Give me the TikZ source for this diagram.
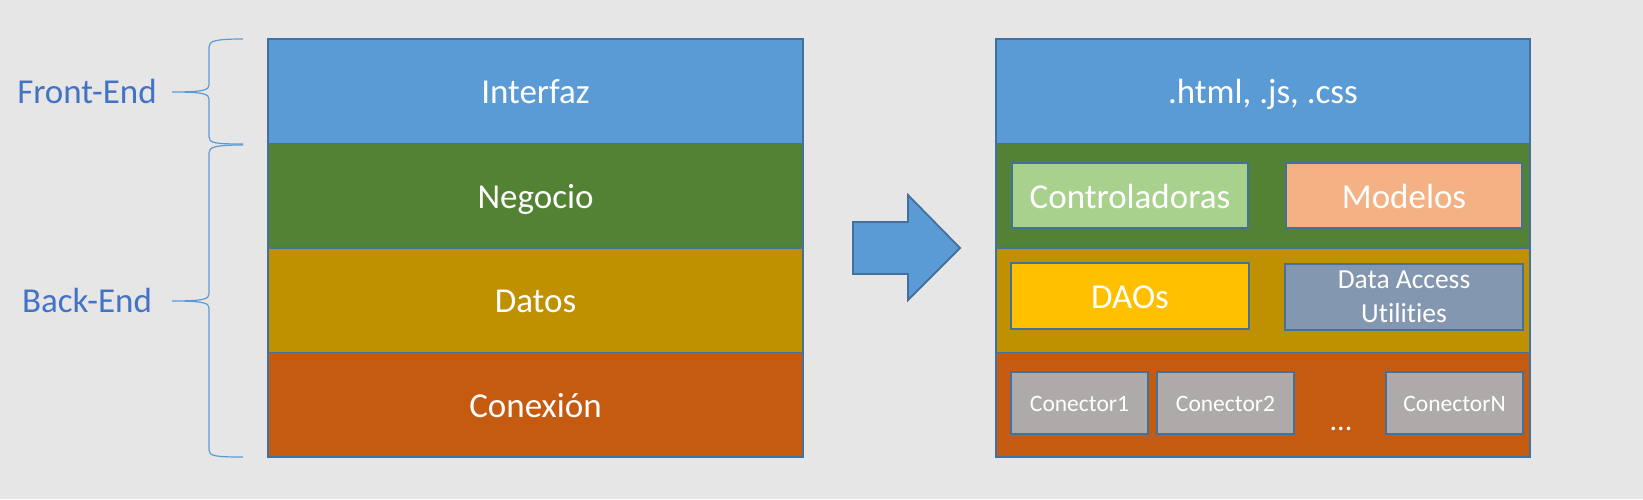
\documentclass[tikz,border=0pt]{standalone}
\usepackage{fontspec}
\setmainfont[Ligatures={NoCommon}]{Carlito}
\definecolor{bgc}{HTML}{E7E6E6}
\definecolor{lblue}{HTML}{5B9BD5}
\definecolor{lgreen}{HTML}{548235}
\definecolor{lgold}{HTML}{BF9000}
\definecolor{lorange}{HTML}{C55A11}
\definecolor{bordc}{HTML}{41719C}
\definecolor{ctrlc}{HTML}{A9D18E}
\definecolor{modc}{HTML}{F4B183}
\definecolor{daoc}{HTML}{FFC000}
\definecolor{dauc}{HTML}{8497B0}
\definecolor{conc}{HTML}{AEAAAA}
\definecolor{labc}{HTML}{4472C4}
\begin{document}
\begin{tikzpicture}[x=1pt,y=-1pt,
  layer/.style={draw=bordc, line width=1.8pt, minimum width=535pt, minimum height=104.5pt,
    inner sep=0pt, outer sep=0pt, text=white, font=\fontsize{35}{42}\selectfont,
    text height=32pt, text depth=6.6pt},
  inbox/.style={draw=bordc, line width=1.8pt, inner sep=0pt, outer sep=0pt, text=white},
  bigtext/.style={font=\fontsize{35}{42}\selectfont, text height=32pt, text depth=6.6pt},
  smalltext/.style={font=\fontsize{23.5}{28}\selectfont, text height=21pt, text depth=3.9pt},
  sidelabel/.style={text=labc, font=\fontsize{35}{42}\selectfont, text height=32pt, text depth=6.6pt, inner sep=0pt},
  bracec/.style={draw=lblue, line width=1.2pt}
]
\fill[bgc] (0,0) rectangle (1643,499);
\useasboundingbox (0,0) rectangle (1643,499);

% left stack
\node[layer, fill=lblue]   (interfaz) at (535.5,91.25)  {Interfaz};
\node[layer, fill=lgreen]  (negocio)  at (535.5,195.75) {Negocio};
\node[layer, fill=lgold]   (datos)    at (535.5,300.25) {Datos};
\node[layer, fill=lorange] (conexion) at (535.5,404.75) {Conexión};

% right stack
\node[layer, minimum width=534pt, fill=lblue]   (rtop)  at (1263,91.25)  {.html, .js, .css};
\node[layer, minimum width=534pt, fill=lgreen]  (rneg)  at (1263,195.75) {};
\node[layer, minimum width=534pt, fill=lgold]   (rdat)  at (1263,300.25) {};
\node[layer, minimum width=534pt, fill=lorange] (rcon)  at (1263,404.75) {};

% inner boxes
\node[inbox, bigtext, fill=ctrlc, minimum width=236pt, minimum height=65pt] (ctrl) at (1130,195.5) {Controladoras};
\node[inbox, bigtext, fill=modc,  minimum width=236pt, minimum height=65pt] (mod)  at (1404,195.5) {Modelos};
\node[inbox, bigtext, fill=daoc,  minimum width=238pt, minimum height=66pt] (dao)  at (1130,296)   {DAOs};
\node[inbox, fill=dauc, minimum width=238pt, minimum height=66pt, align=center,
      font=\fontsize{27.5}{34}\selectfont] (dau) at (1404,297) {Data Access\\Utilities};
\node[inbox, smalltext, fill=conc, minimum width=137pt, minimum height=62pt] (con1) at (1079.5,403) {Conector1};
\node[inbox, smalltext, fill=conc, minimum width=137pt, minimum height=62pt] (con2) at (1225.5,403) {Conector2};
\node[inbox, smalltext, fill=conc, minimum width=137pt, minimum height=62pt] (conN) at (1454.5,403) {ConectorN};
\node[text=white, font=\fontsize{30}{36}\selectfont, anchor=base, inner sep=0pt] (dots) at (1341,430) {...};

% arrow
\draw[fill=lblue, draw=bordc, line width=1.8pt, line join=miter]
  (853,222) -- (908,222) -- (908,195) -- (960,248) -- (908,300) -- (908,274) -- (853,274) -- cycle;

% braces
\draw[bracec] (243,39) .. controls (215,39) and (209,41) .. (209,47) -- (209,85)
  .. controls (209,90) and (204,92) .. (172,92)
  .. controls (204,92) and (209,94) .. (209,99) -- (209,137)
  .. controls (209,143) and (215,144) .. (243,144);
\draw[bracec] (243,145) .. controls (215,145) and (209,147) .. (209,153) -- (209,294)
  .. controls (209,299) and (204,301) .. (172,301)
  .. controls (204,301) and (209,303) .. (209,308) -- (209,450)
  .. controls (209,456) and (215,457) .. (243,457);

\node[sidelabel] (front) at (87,91) {Front-End};
\node[sidelabel] (back)  at (87,300) {Back-End};
\end{tikzpicture}
\end{document}
